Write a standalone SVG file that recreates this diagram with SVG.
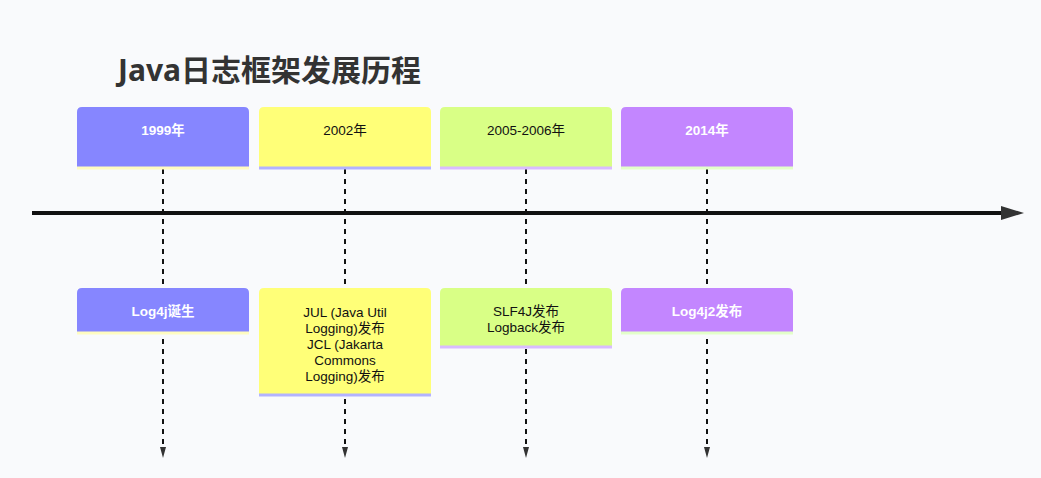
<svg xmlns="http://www.w3.org/2000/svg" width="1041" height="478" viewBox="0 0 1041 478">
<style>
text{font-family:"Liberation Sans","Noto Sans CJK SC",sans-serif;font-size:13.5px;text-anchor:middle}
.w{fill:#ffffff;font-weight:bold}
.k{fill:#111111}
.title{font-family:"Noto Sans","Noto Sans CJK SC",sans-serif;font-size:30px;font-weight:bold;fill:#333333;text-anchor:start}
.dash{stroke:#111;stroke-width:2;stroke-dasharray:5,5;fill:none}
.c0{fill:#8686ff}.c1{fill:#ffff78}.c2{fill:#d9ff86}.c3{fill:#c386ff}
.l0{stroke:#fffcc0;stroke-width:3}.l1{stroke:#b3b3ff;stroke-width:3}.l2{stroke:#d9bcff;stroke-width:3}.l3{stroke:#e3ffc9;stroke-width:3}
</style>
<rect width="1041" height="478" fill="#f9fafc"/>
<text class="title" x="118" y="81">Java日志框架发展历程</text>
<g id="connectors">
<line x1="32" y1="213" x2="1001" y2="213" stroke="#111" stroke-width="4"/>
<path d="M1001,206 L1024,213 L1001,220 z" fill="#333"/>
<line class="dash" x1="163" y1="169" x2="163" y2="450"/>
<line class="dash" x1="345" y1="169" x2="345" y2="450"/>
<line class="dash" x1="526" y1="169" x2="526" y2="450"/>
<line class="dash" x1="707" y1="169" x2="707" y2="450"/>
<path d="M160,447 L163,458 L166,447 z" fill="#333"/>
<path d="M342,447 L345,458 L348,447 z" fill="#333"/>
<path d="M523,447 L526,458 L529,447 z" fill="#333"/>
<path d="M704,447 L707,458 L710,447 z" fill="#333"/>
</g>
<g id="section-1999">
<path class="c0" d="M77,167 V112 Q77,107 82,107 H244 Q249,107 249,112 V167 z"/>
<line class="l0" x1="77" y1="168" x2="249" y2="168"/>
<text class="w" x="163" y="135">1999年</text>
</g>
<g id="section-2002">
<path class="c1" d="M259,167 V112 Q259,107 264,107 H426 Q431,107 431,112 V167 z"/>
<line class="l1" x1="259" y1="168" x2="431" y2="168"/>
<text class="k" x="345" y="135">2002年</text>
</g>
<g id="section-2005">
<path class="c2" d="M440,167 V112 Q440,107 445,107 H607 Q612,107 612,112 V167 z"/>
<line class="l2" x1="440" y1="168" x2="612" y2="168"/>
<text class="k" x="526" y="135">2005-2006年</text>
</g>
<g id="section-2014">
<path class="c3" d="M621,167 V112 Q621,107 626,107 H788 Q793,107 793,112 V167 z"/>
<line class="l3" x1="621" y1="168" x2="793" y2="168"/>
<text class="w" x="707" y="135">2014年</text>
</g>
<g id="event-log4j">
<path class="c0" d="M77,332 V293 Q77,288 82,288 H244 Q249,288 249,293 V332 z"/>
<line class="l0" x1="77" y1="333" x2="249" y2="333"/>
<text class="w" x="163" y="316">Log4j诞生</text>
</g>
<g id="event-jul-jcl">
<path class="c1" d="M259,394 V293 Q259,288 264,288 H426 Q431,288 431,293 V394 z"/>
<line class="l1" x1="259" y1="395" x2="431" y2="395"/>
<text class="k" x="345" y="317">JUL (Java Util</text>
<text class="k" x="345" y="333">Logging)发布</text>
<text class="k" x="345" y="349">JCL (Jakarta</text>
<text class="k" x="345" y="365">Commons</text>
<text class="k" x="345" y="381">Logging)发布</text>
</g>
<g id="event-slf4j">
<path class="c2" d="M440,346 V293 Q440,288 445,288 H607 Q612,288 612,293 V346 z"/>
<line class="l2" x1="440" y1="347" x2="612" y2="347"/>
<text class="k" x="526" y="316">SLF4J发布</text>
<text class="k" x="526" y="332">Logback发布</text>
</g>
<g id="event-log4j2">
<path class="c3" d="M621,332 V293 Q621,288 626,288 H788 Q793,288 793,293 V332 z"/>
<line class="l3" x1="621" y1="333" x2="793" y2="333"/>
<text class="w" x="707" y="316">Log4j2发布</text>
</g>
</svg>
